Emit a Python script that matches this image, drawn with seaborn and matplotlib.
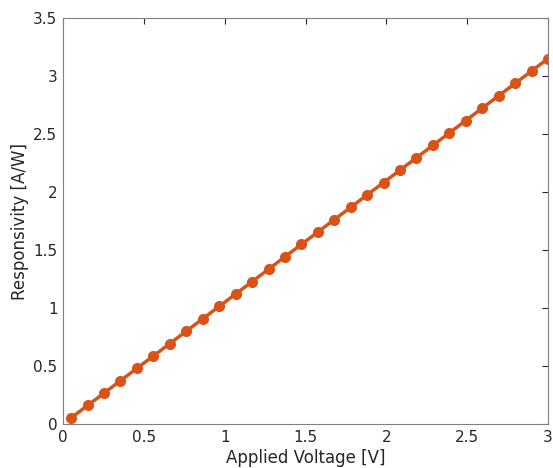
import matplotlib
matplotlib.use("Agg")
import matplotlib.pyplot as plt
import seaborn as sns
import pandas as pd

voltage = [0.050, 0.152, 0.253, 0.355, 0.457, 0.559, 0.660, 0.762, 0.864, 0.966,
           1.067, 1.169, 1.271, 1.372, 1.474, 1.576, 1.678, 1.779, 1.881, 1.983,
           2.084, 2.186, 2.288, 2.390, 2.491, 2.593, 2.695, 2.797, 2.898, 3.000]
responsivity = [0.053, 0.160, 0.266, 0.373, 0.480, 0.587, 0.693, 0.800, 0.907, 1.014,
                1.120, 1.227, 1.334, 1.441, 1.548, 1.655, 1.762, 1.868, 1.975, 2.082,
                2.188, 2.295, 2.402, 2.510, 2.616, 2.723, 2.830, 2.937, 3.043, 3.150]
xticks = [0, 0.5, 1, 1.5, 2, 2.5, 3]
yticks = [0, 0.5, 1, 1.5, 2, 2.5, 3, 3.5]

df = pd.DataFrame({"Voltage": voltage, "Responsivity": responsivity})

sns.set_style("white")
plt.rcParams["font.family"] = ["DejaVu Sans"]

fig = plt.figure(figsize=(5.53, 4.68), dpi=100)
ax = fig.add_axes([0.114, 0.094, 0.877, 0.8675])
sns.lineplot(data=df, x="Voltage", y="Responsivity", ax=ax, color="#D95319",
             linewidth=2.5, marker="o", markersize=8, markeredgewidth=0)

ax.set_xlim(0, 3)
ax.set_ylim(0, 3.5)
ax.set_xticks(xticks)
ax.set_xticklabels(["0", "0.5", "1", "1.5", "2", "2.5", "3"])
ax.set_yticks(yticks)
ax.set_yticklabels(["0", "0.5", "1", "1.5", "2", "2.5", "3", "3.5"])
ax.set_xlabel("Applied Voltage [V]", fontsize=12, color="#262626", labelpad=3)
ax.set_ylabel("Responsivity [A/W]", fontsize=12, color="#262626", labelpad=3)
ax.tick_params(direction="in", length=4, width=0.8, top=True, right=True,
               labelsize=11, colors="#262626", pad=4)
for sp in ax.spines.values():
    sp.set_visible(True)
    sp.set_color("#808080")
    sp.set_linewidth(0.8)

fig.savefig("out.png", dpi=100)
plt.close(fig)
